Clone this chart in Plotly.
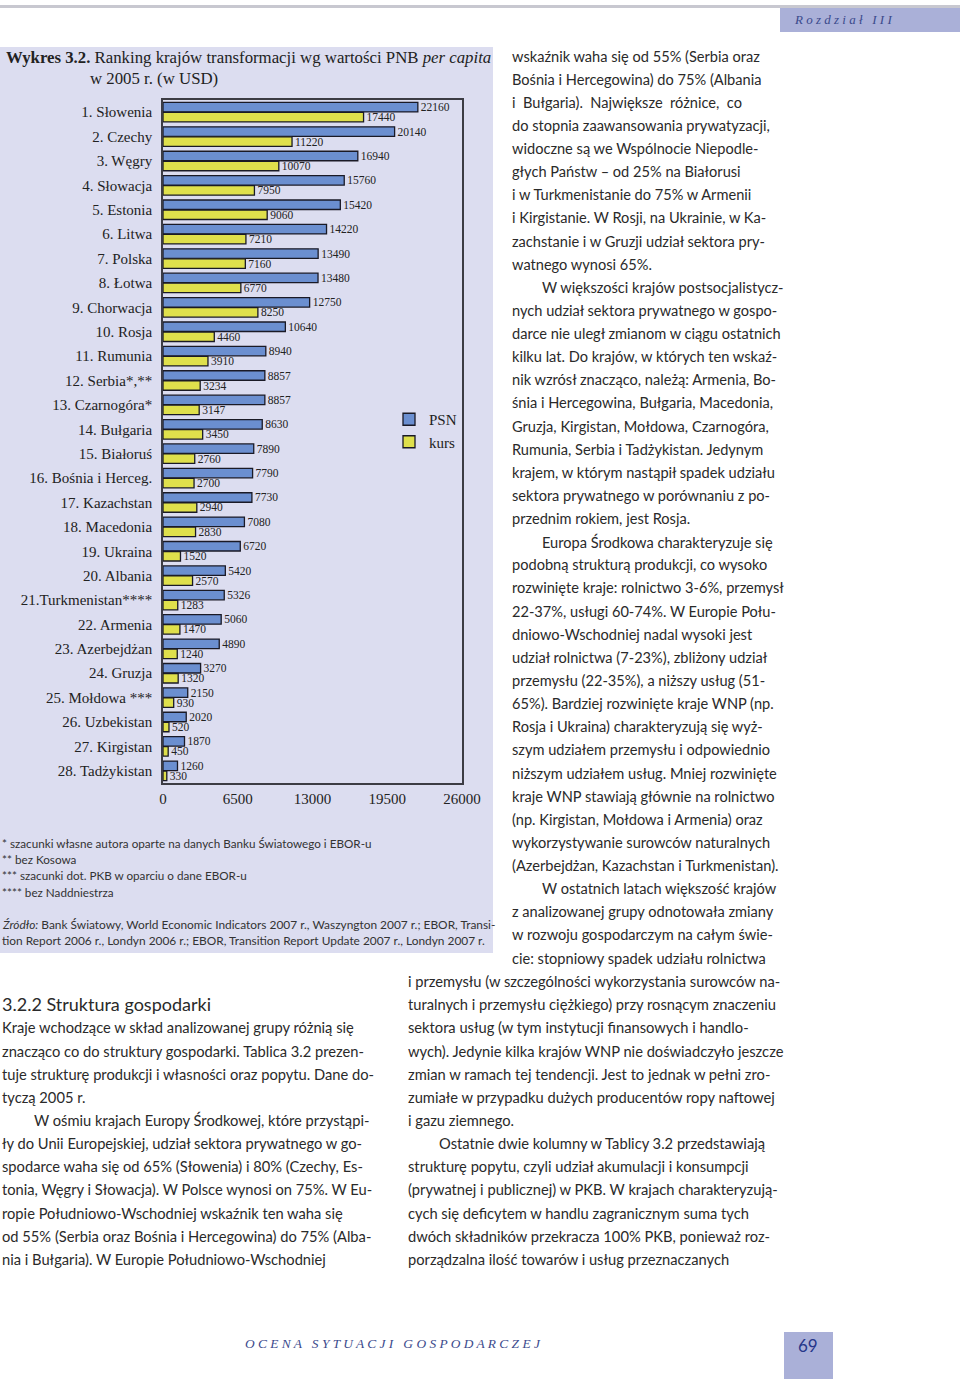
import plotly.graph_objects as go

# ---------------- data ----------------
countries = ["1. Słowenia", "2. Czechy", "3. Węgry", "4. Słowacja", "5. Estonia", "6. Litwa",
             "7. Polska", "8. Łotwa", "9. Chorwacja", "10. Rosja", "11. Rumunia", "12. Serbia*,**",
             "13. Czarnogóra*", "14. Bułgaria", "15. Białoruś", "16. Bośnia i Herceg.", "17. Kazachstan",
             "18. Macedonia", "19. Ukraina", "20. Albania", "21.Turkmenistan****", "22. Armenia",
             "23. Azerbejdżan", "24. Gruzja", "25. Mołdowa ***", "26. Uzbekistan", "27. Kirgistan",
             "28. Tadżykistan"]
psn = [22160, 20140, 16940, 15760, 15420, 14220, 13490, 13480, 12750, 10640, 8940, 8857, 8857, 8630,
       7890, 7790, 7730, 7080, 6720, 5420, 5326, 5060, 4890, 3270, 2150, 2020, 1870, 1260]
kurs = [17440, 11220, 10070, 7950, 9060, 7210, 7160, 6770, 8250, 4460, 3910, 3234, 3147, 3450,
        2760, 2700, 2940, 2830, 1520, 2570, 1283, 1470, 1240, 1320, 930, 520, 450, 330]
x_ticks = [0, 6500, 13000, 19500, 26000]

title_bold = "Wykres 3.2."
title_rest = " Ranking krajów transformacji wg wartości PNB <i>per capita</i>"
title_line2 = "w 2005 r. (w USD)"

footnotes = ["* szacunki własne autora oparte na danych Banku Światowego i EBOR-u",
             "** bez Kosowa",
             "*** szacunki dot. PKB w oparciu o dane EBOR-u",
             "**** bez Naddniestrza"]
source_lines = ["<i>Źródło:</i> Bank Światowy, World Economic Indicators 2007 r., Waszyngton 2007 r.; EBOR, Transi-",
                "tion Report 2006 r., Londyn 2006 r.; EBOR, Transition Report Update 2007 r., Londyn 2007 r."]

right_top_lines = [
    "wskaźnik waha się od 55% (Serbia oraz",
    "Bośnia i Hercegowina) do 75% (Albania",
    "i  Bułgaria).  Największe  różnice,  co",
    "do stopnia zaawansowania prywatyzacji,",
    "widoczne są we Wspólnocie Niepodle-",
    "głych Państw – od 25% na Białorusi",
    "i w Turkmenistanie do 75% w Armenii",
    "i Kirgistanie. W Rosji, na Ukrainie, w Ka-",
    "zachstanie i w Gruzji udział sektora pry-",
    "watnego wynosi 65%.",
    "W większości krajów postsocjalistycz-",
    "nych udział sektora prywatnego w gospo-",
    "darce nie uległ zmianom w ciągu ostatnich",
    "kilku lat. Do krajów, w których ten wskaź-",
    "nik wzrósł znacząco, należą: Armenia, Bo-",
    "śnia i Hercegowina, Bułgaria, Macedonia,",
    "Gruzja, Kirgistan, Mołdowa, Czarnogóra,",
    "Rumunia, Serbia i Tadżykistan. Jedynym",
    "krajem, w którym nastąpił spadek udziału",
    "sektora prywatnego w porównaniu z po-",
    "przednim rokiem, jest Rosja.",
    "Europa Środkowa charakteryzuje się",
    "podobną strukturą produkcji, co wysoko",
    "rozwinięte kraje: rolnictwo 3-6%, przemysł",
    "22-37%, usługi 60-74%. W Europie Połu-",
    "dniowo-Wschodniej nadal wysoki jest",
    "udział rolnictwa (7-23%), zbliżony udział",
    "przemysłu (22-35%), a niższy usług (51-",
    "65%). Bardziej rozwinięte kraje WNP (np.",
    "Rosja i Ukraina) charakteryzują się wyż-",
    "szym udziałem przemysłu i odpowiednio",
    "niższym udziałem usług. Mniej rozwinięte",
    "kraje WNP stawiają głównie na rolnictwo",
    "(np. Kirgistan, Mołdowa i Armenia) oraz",
    "wykorzystywanie surowców naturalnych",
    "(Azerbejdżan, Kazachstan i Turkmenistan).",
    "W ostatnich latach większość krajów",
    "z analizowanej grupy odnotowała zmiany",
    "w rozwoju gospodarczym na całym świe-",
    "cie: stopniowy spadek udziału rolnictwa",
]
right_top_indent = {10, 21, 36}

right_bottom_lines = [
    "i przemysłu (w szczególności wykorzystania surowców na-",
    "turalnych i przemysłu ciężkiego) przy rosnącym znaczeniu",
    "sektora usług (w tym instytucji finansowych i handlo-",
    "wych). Jedynie kilka krajów WNP nie doświadczyło jeszcze",
    "zmian w ramach tej tendencji. Jest to jednak w pełni zro-",
    "zumiałe w przypadku dużych producentów ropy naftowej",
    "i gazu ziemnego.",
    "Ostatnie dwie kolumny w Tablicy 3.2 przedstawiają",
    "strukturę popytu, czyli udział akumulacji i konsumpcji",
    "(prywatnej i publicznej) w PKB. W krajach charakteryzują-",
    "cych się deficytem w handlu zagranicznym suma tych",
    "dwóch składników przekracza 100% PKB, ponieważ roz-",
    "porządzalna ilość towarów i usług przeznaczanych",
]
right_bottom_indent = {7}

section_heading = "3.2.2 Struktura gospodarki"
left_bottom_lines = [
    "Kraje wchodzące w skład analizowanej grupy różnią się",
    "znacząco co do struktury gospodarki. Tablica 3.2 prezen-",
    "tuje strukturę produkcji i własności oraz popytu. Dane do-",
    "tyczą 2005 r.",
    "W ośmiu krajach Europy Środkowej, które przystąpi-",
    "ły do Unii Europejskiej, udział sektora prywatnego w go-",
    "spodarce waha się od 65% (Słowenia) i 80% (Czechy, Es-",
    "tonia, Węgry i Słowacja). W Polsce wynosi on 75%. W Eu-",
    "ropie Południowo-Wschodniej wskaźnik ten waha się",
    "od 55% (Serbia oraz Bośnia i Hercegowina) do 75% (Alba-",
    "nia i Bułgaria). W Europie Południowo-Wschodniej",
]
left_bottom_indent = {4}

header_text = "R o z d z i a ł   I I I"
footer_text = "O C E N A   S Y T U A C J I   G O S P O D A R C Z E J"
page_number = "69"

# ---------------- layout helpers ----------------
W, H = 960, 1379
PL, PR, PT, PB = 163, 462, 100, 783


def fx(px):
    return (px - PL) / (PR - PL)


def fy(py):
    return (PB - py) / (PB - PT)


SERIF = "Liberation Serif, DejaVu Serif, serif"
SANS = "Lato, Open Sans, sans-serif"
BOX = "#dcddf0"
ACCENT = "#aab0d8"
TXT = "#2a2a2a"

fig = go.Figure()
fig.add_trace(go.Bar(
    y=countries, x=psn, orientation="h", name="PSN",
    marker=dict(color="#6b8fd0", line=dict(color="#1a1a26", width=1.3)),
    text=[str(v) for v in psn], textposition="outside", constraintext="none",
    textfont=dict(family=SERIF, size=11.5, color="#222"), cliponaxis=False,
))
fig.add_trace(go.Bar(
    y=countries, x=kurs, orientation="h", name="kurs",
    marker=dict(color="#dfe04c", line=dict(color="#1a1a26", width=1.3)),
    text=[str(v) for v in kurs], textposition="outside", constraintext="none",
    textfont=dict(family=SERIF, size=11.5, color="#222"), cliponaxis=False,
))

shapes = [
    dict(type="rect", xref="paper", yref="paper", x0=fx(0), x1=fx(493), y0=fy(953), y1=fy(47),
         fillcolor=BOX, line=dict(width=0), layer="below"),
    dict(type="rect", xref="paper", yref="paper", x0=fx(0), x1=fx(960), y0=fy(8), y1=fy(5),
         fillcolor="#c8c8d0", line=dict(width=0), layer="below"),
    dict(type="rect", xref="paper", yref="paper", x0=fx(780), x1=fx(960), y0=fy(32), y1=fy(8),
         fillcolor=ACCENT, line=dict(width=0), layer="below"),
    dict(type="rect", xref="paper", yref="paper", x0=fx(784), x1=fx(833), y0=fy(1379), y1=fy(1332),
         fillcolor=ACCENT, line=dict(width=0), layer="below"),
]

ann = []


def add_text(px, py, text, size, family=SANS, color=TXT, xanchor="left"):
    ann.append(dict(xref="paper", yref="paper", x=fx(px), y=fy(py), text=text, showarrow=False,
                    xanchor=xanchor, yanchor="middle", align="left",
                    font=dict(family=family, size=size, color=color)))


# chart title
add_text(4, 58, "<b>" + title_bold + "</b>" + title_rest, 16.8, SERIF, "#222")
add_text(88, 78, title_line2, 16.8, SERIF, "#222")

# footnotes and source
for i, t in enumerate(footnotes):
    add_text(0, [843, 859, 875, 892][i], t, 11.7, SANS, "#333")
for i, t in enumerate(source_lines):
    add_text(0, [924, 940][i], t, 11.9, SANS, "#333")

LINE0, STEP = 56, 23.13
for i, t in enumerate(right_top_lines):
    add_text(540 if i in right_top_indent else 510, LINE0 + STEP * i, t, 14.6)
for j, t in enumerate(right_bottom_lines):
    add_text(437 if j in right_bottom_indent else 406, LINE0 + STEP * (40 + j), t, 14.7)
add_text(0, LINE0 + STEP * 41, section_heading, 18)
for j, t in enumerate(left_bottom_lines):
    add_text(32 if j in left_bottom_indent else 0, LINE0 + STEP * (42 + j), t, 14.7)

# header / footer
add_text(792, 19, "<i>" + header_text + "</i>", 13, SERIF, "#3b4a8c")
add_text(243, 1343, "<i>" + footer_text + "</i>", 13.4, SERIF, "#3b4a8c")
add_text(808.5, 1345, page_number, 17, SANS, "#26368a", xanchor="center")

fig.update_layout(
    width=W, height=H,
    margin=dict(l=PL, r=W - PR, t=PT, b=H - PB, pad=0),
    paper_bgcolor="white", plot_bgcolor="rgba(0,0,0,0)",
    barmode="group", bargap=0.18, bargroupgap=0.05,
    shapes=shapes, annotations=ann,
    showlegend=True,
    legend=dict(x=fx(389), y=fy(403), xanchor="left", yanchor="top",
                bgcolor="rgba(0,0,0,0)", font=dict(family=SERIF, size=15, color="#222"),
                tracegroupgap=0, itemwidth=30),
    font=dict(family=SERIF, color="#222"),
)
fig.update_xaxes(range=[0, 26000], tickvals=x_ticks, ticktext=[str(v) for v in x_ticks],
                 showgrid=False, zeroline=False, showline=True, linecolor="#3c3c44", linewidth=1.6,
                 mirror=True, ticks="outside", ticklen=1, tickcolor="rgba(0,0,0,0)",
                 tickfont=dict(family=SERIF, size=15, color="#222"))
fig.update_yaxes(autorange="reversed", showgrid=False, zeroline=False, showline=True,
                 linecolor="#3c3c44", linewidth=1.6, mirror=True, ticks="outside", ticklen=6,
                 tickcolor="rgba(0,0,0,0)", tickfont=dict(family=SERIF, size=15, color="#222"))

fig.write_html("out.html", post_script="document.body.style.margin='0';",
               config={"displayModeBar": False})
